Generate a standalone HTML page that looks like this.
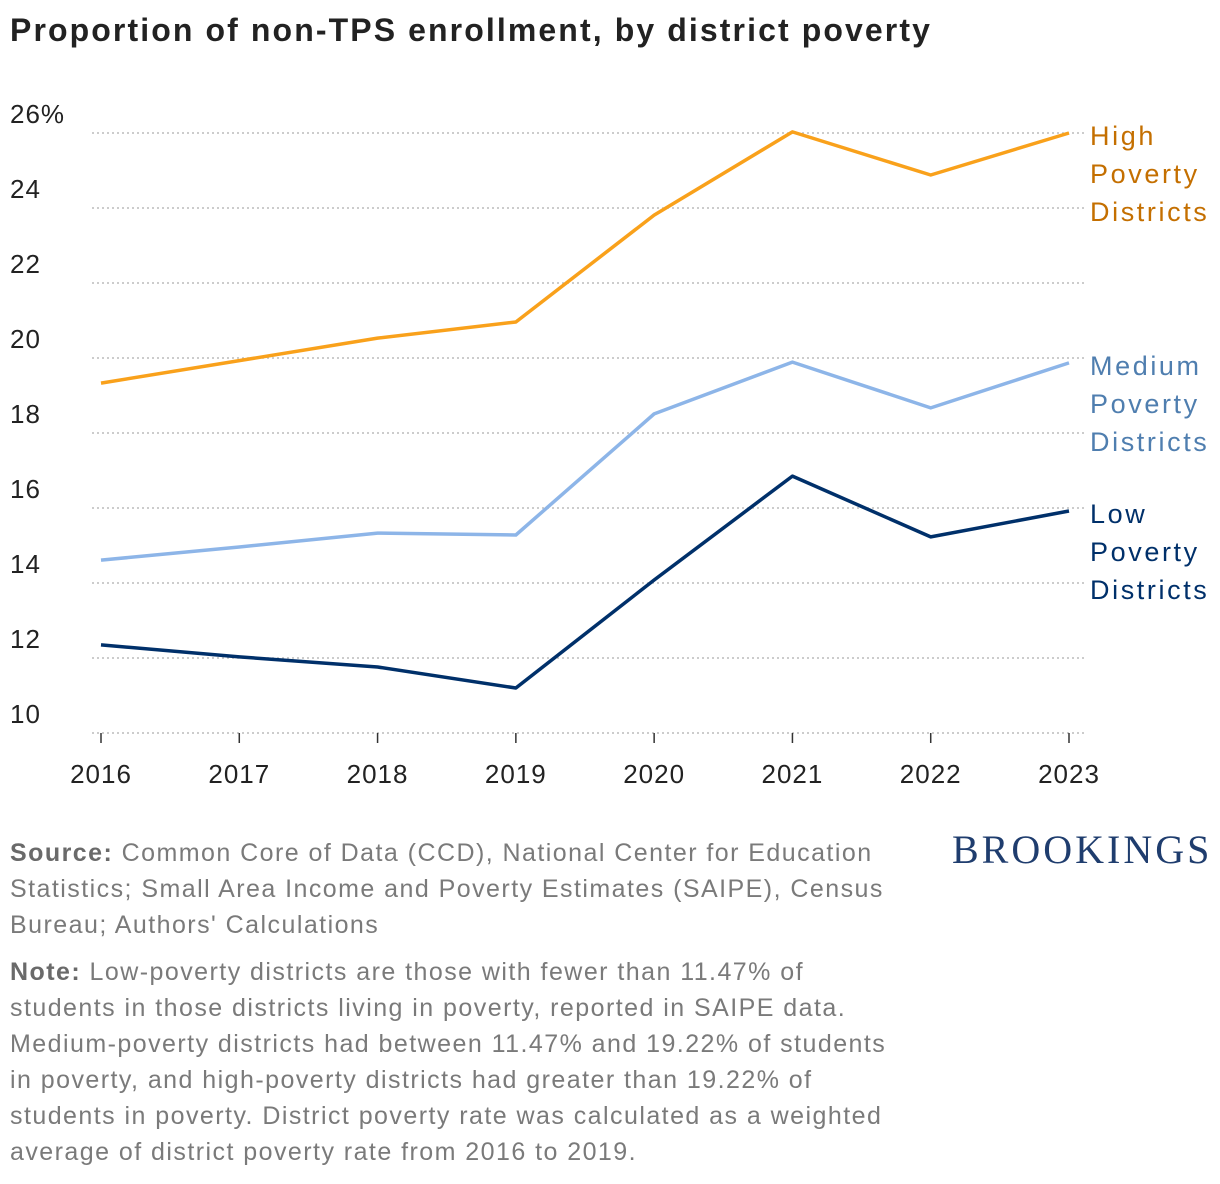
<!DOCTYPE html>
<html><head><meta charset="utf-8">
<style>
body{margin:0;background:#fff;width:1220px;height:1184px;overflow:hidden;font-family:"Liberation Sans",sans-serif;}
#title{position:absolute;left:10px;top:12px;font-size:32px;font-weight:bold;color:#222;letter-spacing:2.1px;white-space:nowrap;}
.foot{position:absolute;left:10px;width:920px;font-size:25px;line-height:36px;color:#7a7a7a;letter-spacing:1.45px;white-space:nowrap;}
.foot b{color:#6a6a6a;}
#logo{position:absolute;left:952px;top:826px;font-family:"Liberation Serif",serif;font-size:40px;color:#1f3d6e;letter-spacing:3px;white-space:nowrap;}
</style></head><body>
<div id="title">Proportion of non-TPS enrollment, by district poverty</div>
<svg id="chart" width="1220" height="800" style="position:absolute;left:0;top:0"></svg>
<div class="foot" style="top:835px"><b>Source:</b> Common Core of Data (CCD), National Center for Education<br>Statistics; Small Area Income and Poverty Estimates (SAIPE), Census<br>Bureau; Authors' Calculations</div>
<div class="foot" style="top:954px"><b>Note:</b> Low-poverty districts are those with fewer than 11.47% of<br>students in those districts living in poverty, reported in SAIPE data.<br>Medium-poverty districts had between 11.47% and 19.22% of students<br>in poverty, and high-poverty districts had greater than 19.22% of<br>students in poverty. District poverty rate was calculated as a weighted<br>average of district poverty rate from 2016 to 2019.</div>
<div id="logo">BROOKINGS</div>
<script>
const years=[2016,2017,2018,2019,2020,2021,2022,2023];
const yTicks=[10,12,14,16,18,20,22,24,26];
const highVals=[19.33,19.93,20.53,20.96,23.81,26.03,24.88,26.0];
const medVals=[14.61,14.96,15.33,15.28,18.51,19.89,18.67,19.87];
const lowVals=[12.35,12.03,11.76,11.2,14.08,16.85,15.23,15.92];
const seriesNames=[["High","Poverty","Districts"],["Medium","Poverty","Districts"],["Low","Poverty","Districts"]];
const NS="http://www.w3.org/2000/svg";
const svg=document.getElementById('chart');
const x=i=>101+i*(1069-101)/(years.length-1);
const y=v=>733-(v-10)*37.5;
function mk(t,a){const e=document.createElementNS(NS,t);for(const k in a)e.setAttribute(k,a[k]);svg.appendChild(e);return e;}
yTicks.forEach((t,i)=>{
  const g=mk('line',{x1:92,x2:1086,y1:y(t),y2:y(t),stroke:'#bbb','stroke-width':1.5,'stroke-dasharray':'2,3'});
  
  
  const l=mk('text',{x:10,y:y(t)-10,'font-size':26,fill:'#222','letter-spacing':1,'font-family':'Liberation Sans, sans-serif'});
  l.textContent=t+(i==yTicks.length-1?'%':'');
  
  
});
years.forEach((yr,i)=>{
  const tk=mk('line',{x1:x(i),x2:x(i),y1:733,y2:743,stroke:'#333','stroke-width':1.5});
  
  
  const l=mk('text',{x:x(i),y:783,'font-size':26,fill:'#222','text-anchor':'middle','letter-spacing':1,'font-family':'Liberation Sans, sans-serif'});
  l.textContent=yr;
  
  
});
const series=[[highVals,'#f9a11b','#c46f00','high-poverty-line'],[medVals,'#8db5e8','#4f7eaf','medium-poverty-line'],[lowVals,'#00306a','#00306a','low-poverty-line']];
series.forEach((s,si)=>{
  const p=mk('polyline',{points:s[0].map((v,i)=>x(i)+','+y(v)).join(' '),fill:'none',stroke:s[1],'stroke-width':3.5,'stroke-linejoin':'round'});
  
  
  const ly=y(s[0][s[0].length-1])+12;
  seriesNames[si].forEach((w,k)=>{
    const t=mk('text',{x:1090,y:ly+k*38,'font-size':27,fill:s[2],'letter-spacing':2.6,'font-family':'Liberation Sans, sans-serif'});
    t.textContent=w;
    
    
  });
});
</script>
</body></html>
